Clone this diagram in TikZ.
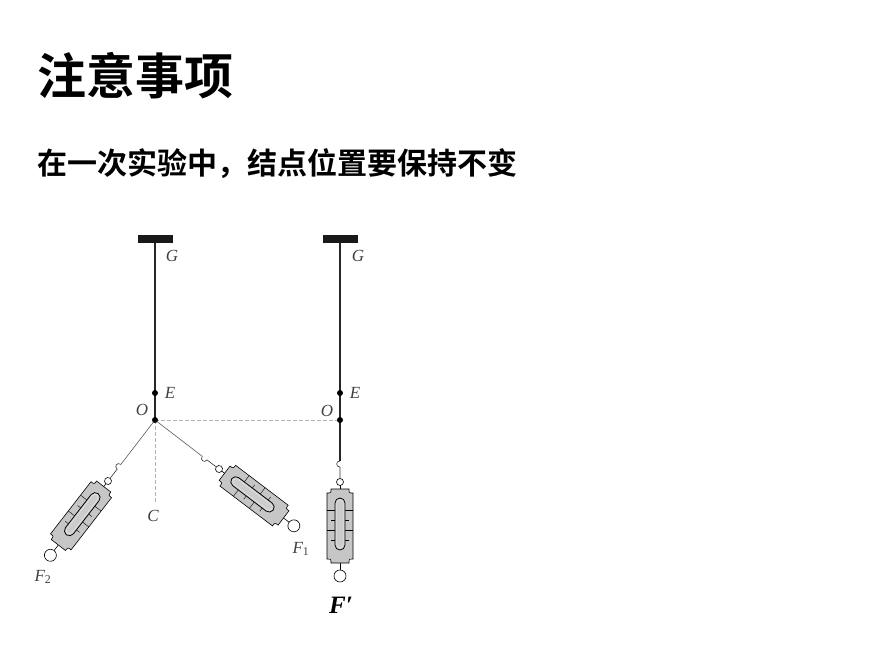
\documentclass[tikz,border=0pt]{standalone}
\usepackage{fontspec}
\usepackage{amsmath}
\usepackage{amssymb}
\setmainfont{Liberation Serif}
\newfontfamily\cjk{Noto Sans CJK SC}[BoldFont={Noto Sans CJK SC Bold}]

\tikzset{
	string/.style={black!85, line width=1.2pt},
	thinstring/.style={gray!70!black, line width=0.6pt},
	helper/.style={gray!60, line width=0.7pt, dash pattern=on 3.5pt off 2.5pt},
	knot/.style={circle, fill=black, inner sep=0pt, minimum size=6pt},
	lbl/.style={text=black!75, inner sep=0pt, font=\fontsize{17}{17}\selectfont\itshape},
	balance/.pic={
		% hook and stem
		\coordinate (-hook) at (0,-21);
		\draw[black!80, line width=0.6pt] (0,-21) .. controls (-4.5,-21) and (-4.5,-15) .. (0,-15) -- (0,-4);
		% stems to the rings
		\draw[line width=0.6pt] (0,3) -- (0,8) (0,80) -- (0,88);
		% body
		\draw[fill=gray!45, line width=0.6pt] (-9,7) -- (9,7) .. controls (9,11) .. (13,11) -- (13,77)
			.. controls (9,77) .. (9,81) -- (-9,81) .. controls (-9,77) .. (-13,77) -- (-13,11)
			.. controls (-9,11) .. (-9,7) -- cycle;
		% scale
		\draw[line width=0.4pt] (-13,28) -- (-5,28) (5,28) -- (13,28) (-13,48) -- (-5,48) (5,48) -- (13,48);
		\draw[line width=0.4pt] (-9,38) -- (-5,38) (5,38) -- (9,38) (-9,58) -- (-5,58) (5,58) -- (9,58);
		% slot
		\draw[fill=gray!40, line width=0.8pt, rounded corners=5pt] (-5,16) rectangle (5,68);
		\draw[white!85!gray, line width=0.35pt, rounded corners=3.5pt] (-3.2,17.8) rectangle (3.2,66.2);
		% rings
		\draw[fill=white, line width=0.6pt] (0,0) circle (3.5pt);
		\draw[fill=white, line width=0.6pt] (0,94) circle (6pt);
	}
}

\begin{document}
\begin{tikzpicture}[x=1pt, y=-1pt]
	\useasboundingbox (0,0) rectangle (888,665);

	% Heading
	\node[anchor=west, inner sep=0pt] (title) at (37,76) {\cjk\bfseries\fontsize{49}{49}\selectfont 注意事项};
	\node[anchor=west, inner sep=0pt] (note) at (37,164) {\cjk\bfseries\fontsize{30}{30}\selectfont 在一次实验中，结点位置要保持不变};

	% Left set-up: two balances
	\fill[black!90] (138,235) rectangle (173,243);
	\coordinate (G1) at (155,243);
	\coordinate (E1) at (155,393);
	\coordinate (O1) at (155,420);
	\coordinate (C) at (155,502);
	\pic[rotate=-37.8] (bal2) at (108,481) {balance};
	\pic[rotate=52.8] (bal1) at (219,469) {balance};
	\draw[thinstring] (O1) -- (bal2-hook);
	\draw[thinstring] (O1) -- (bal1-hook);
	\draw[string] (G1) -- (O1);

	% Right set-up: one balance
	\fill[black!90] (323,235) rectangle (358,243);
	\coordinate (G2) at (340,243);
	\coordinate (E2) at (340,393);
	\coordinate (O2) at (340,420);
	\pic (bal3) at (340,482) {balance};
	\draw[string] (G2) -- (bal3-hook);

	% Helper lines
	\draw[helper] (O1) -- (C);
	\draw[helper] (O1) -- (O2);

	% Knots
	\node[knot] (e1) at (E1) {};
	\node[knot] (o1) at (O1) {};
	\node[knot] (e2) at (E2) {};
	\node[knot] (o2) at (O2) {};

	% Labels
	\node[lbl] (labG1) at (172,256) {G};
	\node[lbl] (labE1) at (170,393) {E};
	\node[lbl] (labO1) at (142,410) {O};
	\node[lbl] (labC) at (153,516) {C};
	\node[lbl] (labF1) at (301,549) {F\textsubscript{\upshape 1}};
	\node[lbl] (labF2) at (43,577) {F\textsubscript{\upshape 2}};
	\node[lbl] (labG2) at (358,256) {G};
	\node[lbl] (labE2) at (355,393) {E};
	\node[lbl] (labO2) at (327,411) {O};
	\node[lbl, text=black, font=\fontsize{25}{25}\selectfont\bfseries\itshape] (labF) at (341,605) {F′};

\end{tikzpicture}
\end{document}
